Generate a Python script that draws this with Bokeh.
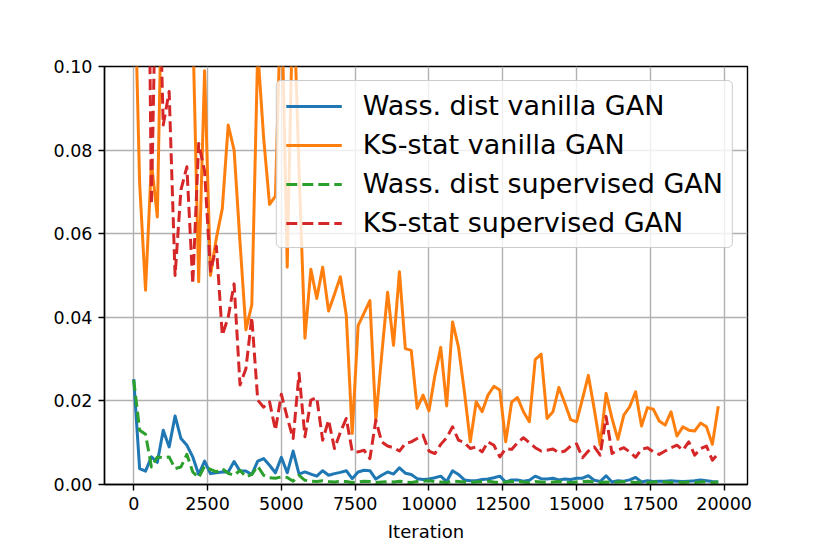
from bokeh.plotting import figure
from bokeh.models import Legend, LegendItem, FixedTicker, NumeralTickFormatter, Range1d
from bokeh.embed import file_html
from bokeh.resources import INLINE

iterations = list(range(0, 20000, 200))

wass_vanilla = [
    0.0252, 0.0038, 0.0032, 0.0066, 0.0053, 0.0130, 0.0090, 0.0164, 0.0110, 0.0094,
    0.0066, 0.0024, 0.0056, 0.0026, 0.0028, 0.0030, 0.0030, 0.0055, 0.0032, 0.0032,
    0.0024, 0.0056, 0.0062, 0.0046, 0.0028, 0.0065, 0.0028, 0.0080, 0.0025, 0.0030,
    0.0025, 0.0020, 0.0033, 0.0022, 0.0026, 0.0029, 0.0033, 0.0014, 0.0030, 0.0034,
    0.0033, 0.0013, 0.0022, 0.0030, 0.0025, 0.0040, 0.0027, 0.0024, 0.0014, 0.0012,
    0.0013, 0.0016, 0.0020, 0.0007, 0.0033, 0.0024, 0.0011, 0.0009, 0.0009, 0.0012,
    0.0013, 0.0016, 0.0020, 0.0006, 0.0011, 0.0011, 0.0008, 0.0010, 0.0020, 0.0014,
    0.0013, 0.0015, 0.0011, 0.0013, 0.0012, 0.0015, 0.0015, 0.0021, 0.0010, 0.0007,
    0.0021, 0.0006, 0.0009, 0.0008, 0.0011, 0.0017, 0.0006, 0.0009, 0.0007, 0.0008,
    0.0008, 0.0009, 0.0008, 0.0007, 0.0008, 0.0009, 0.0011, 0.0009, 0.0007, 0.0006,
]

ks_vanilla = [
    0.130, 0.072, 0.0465, 0.077, 0.064, 0.140, 0.160, 0.180, 0.150, 0.130,
    0.110, 0.0485, 0.099, 0.050, 0.059, 0.066, 0.086, 0.080, 0.058, 0.037,
    0.043, 0.104, 0.083, 0.067, 0.069, 0.120, 0.052, 0.120, 0.075, 0.035,
    0.0515, 0.0445, 0.052, 0.0415, 0.0455, 0.0497, 0.0405, 0.0122, 0.038, 0.041,
    0.044, 0.0155, 0.031, 0.046, 0.0333, 0.0509, 0.0325, 0.0321, 0.0182, 0.0214,
    0.0176, 0.026, 0.0328, 0.0188, 0.0389, 0.0329, 0.0222, 0.0102, 0.0198, 0.0174,
    0.0214, 0.0235, 0.0226, 0.0102, 0.0197, 0.0208, 0.0174, 0.0150, 0.0299, 0.0312,
    0.0158, 0.0174, 0.0232, 0.0195, 0.0155, 0.0150, 0.0205, 0.0261, 0.0180, 0.0094,
    0.0218, 0.0158, 0.0108, 0.0166, 0.0186, 0.0222, 0.0140, 0.0184, 0.0180, 0.0152,
    0.0142, 0.0174, 0.0116, 0.0138, 0.0130, 0.0128, 0.0147, 0.0138, 0.0096, 0.0187,
]

wass_supervised = [
    0.0250, 0.0130, 0.0120, 0.0042, 0.0066, 0.0064, 0.0066, 0.0038, 0.0042, 0.0072,
    0.0030, 0.0016, 0.0044, 0.0036, 0.0030, 0.0038, 0.0027, 0.0022, 0.0034, 0.0018,
    0.0024, 0.0044, 0.0022, 0.0016, 0.0015, 0.0018, 0.0017, 0.0008, 0.0022, 0.0010,
    0.0008, 0.0007, 0.0009, 0.0007, 0.0006, 0.0008, 0.0007, 0.0005, 0.0006, 0.0008,
    0.0007, 0.0005, 0.0006, 0.0007, 0.0006, 0.0008, 0.0006, 0.0005, 0.0007, 0.0008,
    0.0009, 0.0007, 0.0006, 0.0005, 0.0008, 0.0007, 0.0006, 0.0005, 0.0006, 0.0007,
    0.0008, 0.0006, 0.0005, 0.0006, 0.0007, 0.0008, 0.0006, 0.0005, 0.0007, 0.0006,
    0.0005, 0.0006, 0.0007, 0.0006, 0.0005, 0.0006, 0.0007, 0.0008, 0.0006, 0.0005,
    0.0006, 0.0005, 0.0006, 0.0007, 0.0006, 0.0005, 0.0006, 0.0005, 0.0006, 0.0007,
    0.0006, 0.0005, 0.0006, 0.0005, 0.0006, 0.0005, 0.0006, 0.0007, 0.0005, 0.0006,
]

ks_supervised = [
    0.250, 0.220, 0.200, 0.067, 0.140, 0.086, 0.094, 0.050, 0.0705, 0.076,
    0.048, 0.0816, 0.075, 0.051, 0.057, 0.0357, 0.040, 0.048, 0.0238, 0.0277,
    0.040, 0.0202, 0.0185, 0.0198, 0.0130, 0.0216, 0.0160, 0.0110, 0.0266, 0.0114,
    0.0202, 0.0208, 0.0106, 0.0154, 0.0086, 0.0125, 0.0158, 0.0080, 0.0078, 0.0082,
    0.0062, 0.0154, 0.0102, 0.0092, 0.0088, 0.0080, 0.0098, 0.0102, 0.0110, 0.0118,
    0.0080, 0.0074, 0.0096, 0.0112, 0.0138, 0.0106, 0.0100, 0.0086, 0.0090, 0.0078,
    0.0102, 0.0094, 0.0066, 0.0086, 0.0084, 0.0100, 0.0112, 0.0100, 0.0088, 0.0080,
    0.0082, 0.0085, 0.0076, 0.0080, 0.0092, 0.0097, 0.0064, 0.0080, 0.0090, 0.0070,
    0.0163, 0.0074, 0.0082, 0.0088, 0.0078, 0.0065, 0.0084, 0.0088, 0.0078, 0.0072,
    0.0080, 0.0088, 0.0094, 0.0082, 0.0102, 0.0070, 0.0086, 0.0092, 0.0058, 0.0074,
]

series_labels = [
    "Wass. dist vanilla GAN",
    "KS-stat vanilla GAN",
    "Wass. dist supervised GAN",
    "KS-stat supervised GAN",
]
x_ticks = [0, 2500, 5000, 7500, 10000, 12500, 15000, 17500, 20000]
y_ticks = [0.0, 0.02, 0.04, 0.06, 0.08, 0.10]
x_label = "Iteration"

FONT = "DejaVu Sans"

p = figure(
    frame_width=643, frame_height=418,
    x_range=Range1d(-990, 20790), y_range=Range1d(0, 0.1),
    output_backend="svg", toolbar_location=None,
    min_border_left=104, min_border_right=71, min_border_top=66, min_border_bottom=62,
    background_fill_color="white", border_fill_color="white",
)

r1 = p.line(iterations, wass_vanilla, line_color="#1f77b4", line_width=3, line_join="round")
r2 = p.line(iterations, ks_vanilla, line_color="#ff7f0e", line_width=3, line_join="round")
r3 = p.line(iterations, wass_supervised, line_color="#2ca02c", line_width=3, line_dash="11 5", line_join="round")
r4 = p.line(iterations, ks_supervised, line_color="#d62728", line_width=3, line_dash="11 5", line_join="round")

p.xaxis.ticker = FixedTicker(ticks=x_ticks)
p.yaxis.ticker = FixedTicker(ticks=y_ticks)
p.xaxis.formatter = NumeralTickFormatter(format="0")
p.yaxis.formatter = NumeralTickFormatter(format="0.00")
for ax in (p.xaxis, p.yaxis):
    ax.major_tick_out = 6
    ax.major_tick_in = 0
    ax.minor_tick_out = 0
    ax.minor_tick_in = 0
    ax.major_tick_line_width = 1.4
    ax.major_tick_line_color = "black"
    ax.axis_line_width = 1.4
    ax.axis_line_color = "black"
    ax.major_label_text_font = FONT
    ax.major_label_text_font_size = "17.5px"
    ax.major_label_text_color = "black"
    ax.major_label_standoff = 6
p.xaxis.axis_label = x_label
p.xaxis.axis_label_text_font = FONT
p.xaxis.axis_label_text_font_size = "18px"
p.xaxis.axis_label_text_font_style = "normal"
p.xaxis.axis_label_text_color = "black"
p.xaxis.axis_label_standoff = 8

p.grid.grid_line_color = "#b0b0b0"
p.grid.grid_line_width = 1.4
p.outline_line_color = "black"
p.outline_line_width = 1.4
p.outline_line_alpha = 1.0

legend = Legend(
    items=[LegendItem(label=l, renderers=[r]) for l, r in zip(series_labels, [r1, r2, r3, r4])],
    location="top_right", margin=14, padding=9, spacing=8,
    glyph_width=56, glyph_height=28, label_height=28, label_standoff=21,
    label_text_font=FONT, label_text_font_size="27px", label_text_color="black",
    background_fill_color="white", background_fill_alpha=0.8,
    border_line_color="#cccccc", border_line_width=1.4, border_line_alpha=1.0,
)
if "border_radius" in Legend.properties():
    legend.border_radius = 5
p.add_layout(legend)

open("out.html", "w").write(file_html(p, INLINE))
